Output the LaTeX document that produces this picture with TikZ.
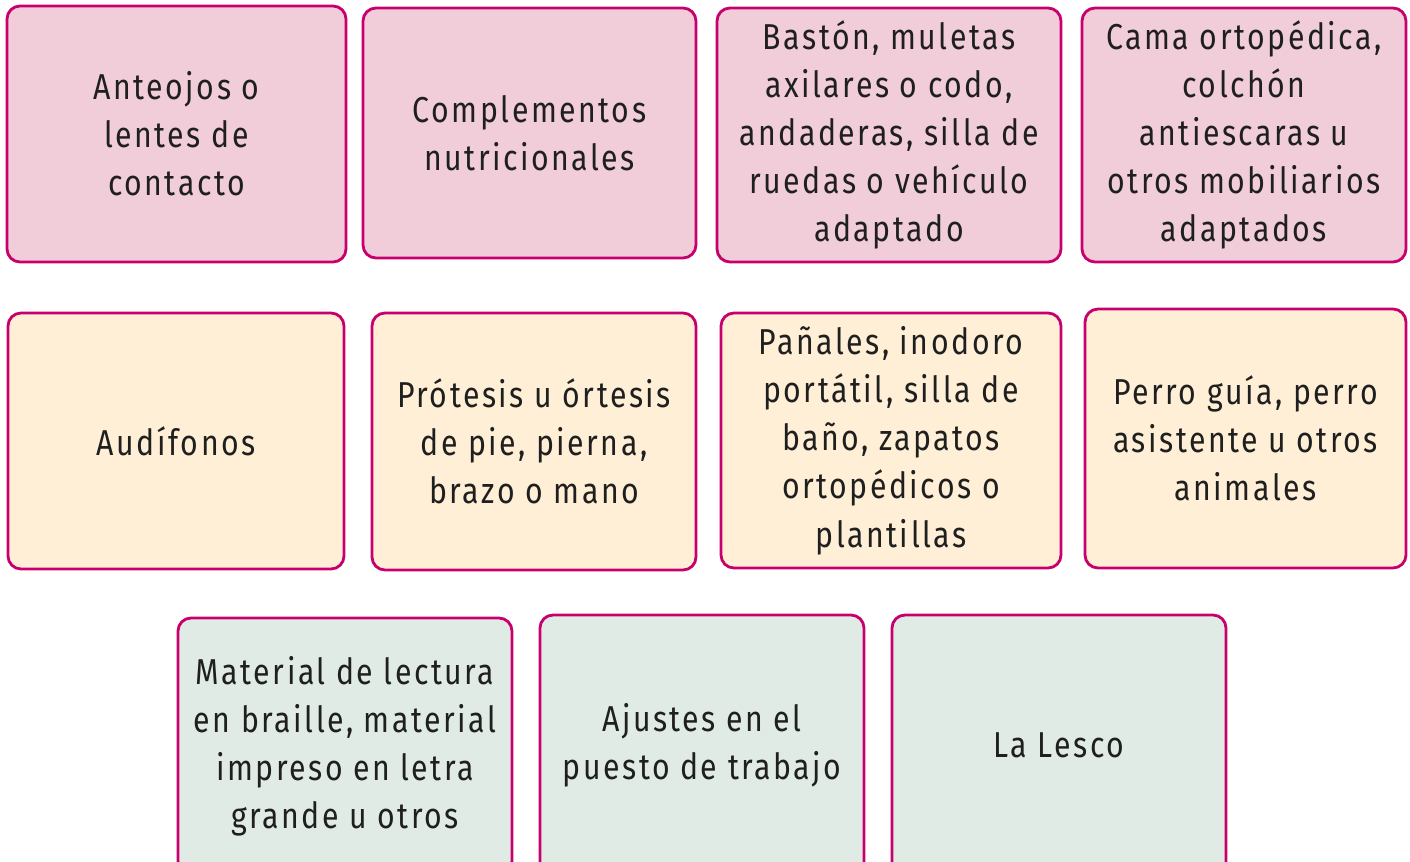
\documentclass[tikz,border=0pt]{standalone}
\usepackage{fontspec}
\setmainfont{Fira Sans}[FakeStretch=0.84, LetterSpace=7]
\definecolor{cardline}{HTML}{C8006E}
\definecolor{pinkfill}{HTML}{F1CDD9}
\definecolor{creamfill}{HTML}{FFEFD6}
\definecolor{greenfill}{HTML}{E1EBE6}

\begin{document}
\begin{tikzpicture}[every node/.style={draw=cardline, line width=1.6pt, rounded corners=0.26cm, align=center, inner sep=0pt, font=\fontsize{20.5}{27.4}\selectfont, text=black!88}]
  \useasboundingbox (0,0) rectangle (28.2,-17.22);
  % first row
  \node[fill=pinkfill, minimum width=6.78cm, minimum height=5.12cm] (lentes) at (3.53,-2.68) {Anteojos o\\lentes de\\contacto};
  \node[fill=pinkfill, minimum width=6.66cm, minimum height=5.00cm] (nutri) at (10.59,-2.66) {Complementos\\nutricionales};
  \node[fill=pinkfill, minimum width=6.88cm, minimum height=5.08cm] (baston) at (17.78,-2.70) {Bastón, muletas\\axilares o codo,\\andaderas, silla de\\ruedas o vehículo\\adaptado};
  \node[fill=pinkfill, minimum width=6.48cm, minimum height=5.08cm] (cama) at (24.88,-2.70) {Cama ortopédica,\\colchón\\antiescaras u\\otros mobiliarios\\adaptados};
  % second row
  \node[fill=creamfill, minimum width=6.72cm, minimum height=5.12cm] (audif) at (3.52,-8.82) {Audífonos};
  \node[fill=creamfill, minimum width=6.48cm, minimum height=5.14cm] (protesis) at (10.68,-8.83) {Prótesis u órtesis\\de pie, pierna,\\brazo o mano};
  \node[fill=creamfill, minimum width=6.80cm, minimum height=5.10cm] (panales) at (17.82,-8.81) {Pañales, inodoro\\portátil, silla de\\baño, zapatos\\ortopédicos o\\plantillas};
  \node[fill=creamfill, minimum width=6.42cm, minimum height=5.18cm] (perro) at (24.91,-8.77) {Perro guía, perro\\asistente u otros\\animales};
  % third row
  \node[fill=greenfill, minimum width=6.68cm, minimum height=5.12cm] (braille) at (6.90,-14.92) {Material de lectura\\en braille, material\\impreso en letra\\grande u otros};
  \node[fill=greenfill, minimum width=6.48cm, minimum height=5.20cm] (ajustes) at (14.04,-14.90) {Ajustes en el\\puesto de trabajo};
  \node[fill=greenfill, minimum width=6.68cm, minimum height=5.20cm] (lesco) at (21.18,-14.90) {La Lesco};
\end{tikzpicture}
\end{document}
